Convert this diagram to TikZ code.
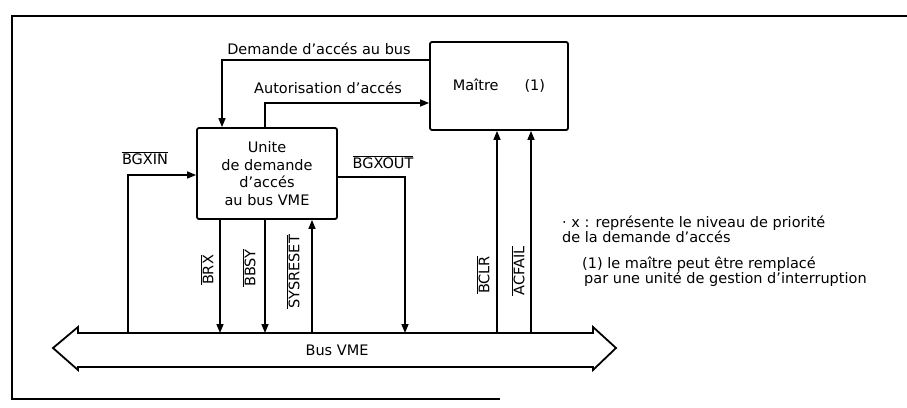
\documentclass[tikz,border=0pt]{standalone}
\usepackage{fontspec}
\setmainfont{DejaVu Sans}
\usetikzlibrary{arrows.meta}
\newcommand{\sigbar}[1]{$\overline{\mbox{#1}}$}
\begin{document}
\begin{tikzpicture}[x=1pt, y=-1pt, >={Triangle[length=9pt,width=7pt]},
  font=\fontsize{14.5}{17.5}\selectfont,
  boite/.style={draw, line width=1.8pt, rounded corners=2pt, inner sep=0pt},
  sig/.style={line width=1.5pt},
  lbl/.style={inner sep=1pt},
  vlbl/.style={rotate=90, inner sep=1pt},
  note/.style={anchor=west, align=left, inner sep=1pt, font=\fontsize{14.5}{15}\selectfont}]
\useasboundingbox (0,0) rectangle (907,407);
% Cadre
\draw[line width=1.8pt] (907,16) -- (12,16) -- (12,399) -- (500,399);

% Boites
\node[boite, minimum width=138pt, minimum height=88pt] (maitre) at (499,86) {Maître\hspace{26pt}(1)};
\node[boite, minimum width=140pt, minimum height=91pt, align=center] (unite) at (267,173.5) {Unite\\de demande\\d'accés\\au bus VME};

% Bus VME
\draw[line width=1.8pt] (53,348) -- (78,327) -- (78,333) -- (593,333) -- (593,327) -- (616,348)
  -- (593,370) -- (593,367) -- (78,367) -- (78,370) -- cycle;
\node[lbl] (bus) at (337,350) {Bus VME};

% Points de passage
\coordinate (bushaut) at (0,333);
\coordinate (dem) at (222,60);
\coordinate (aut) at (265,103);
\coordinate (bgin) at (128,175);
\coordinate (bgout) at (405,177);
\coordinate (brx) at (220,0);
\coordinate (bbsy) at (265,0);
\coordinate (sysr) at (312,0);
\coordinate (bclr) at (497,0);
\coordinate (acf) at (531,0);

% Demande / autorisation
\draw[sig,->] (maitre.west |- dem) -- (dem) -- (unite.north -| dem);
\node[lbl] (tdem) at (319,49) {Demande d'accés au bus};
\draw[sig,->] (unite.north -| aut) -- (aut) -- (maitre.west |- aut);
\node[lbl] (taut) at (328,88) {Autorisation d'accés};

% Chainage
\draw[sig,->] (bgin |- bushaut) -- (bgin) -- (unite.west |- bgin);
\node[lbl] (tbgin) at (145,158) {\sigbar{BGXIN}};
\draw[sig,->] (unite.east |- bgout) -- (bgout) -- (bgout |- bushaut);
\node[lbl] (tbgout) at (383,162) {\sigbar{BGXOUT}};

% Signaux du bus
\draw[sig,->] (unite.south -| brx) -- (brx |- bushaut);
\node[vlbl] (tbrx) at (207,270) {\sigbar{BRX}};
\draw[sig,->] (unite.south -| bbsy) -- (bbsy |- bushaut);
\node[vlbl] (tbbsy) at (249,268) {\sigbar{BBSY}};
\draw[sig,->] (sysr |- bushaut) -- (unite.south -| sysr);
\node[vlbl] (tsysr) at (293,272) {\sigbar{SYSRESET}};
\draw[sig,->] (bclr |- bushaut) -- (maitre.south -| bclr);
\node[vlbl] (tbclr) at (483,275) {\sigbar{BCLR}};
\draw[sig,->] (acf |- bushaut) -- (maitre.south -| acf);
\node[vlbl] (tacf) at (518,271) {\sigbar{ACFAIL}};

% Notes
\node[note] (note1) at (561,229) {· x : représente le niveau de priorité\\de la demande d'accés};
\node[note] (note2) at (581,272) {(1) le maître peut être remplacé\\\hspace{2pt}par une unité de gestion d'interruption};
\end{tikzpicture}
\end{document}
